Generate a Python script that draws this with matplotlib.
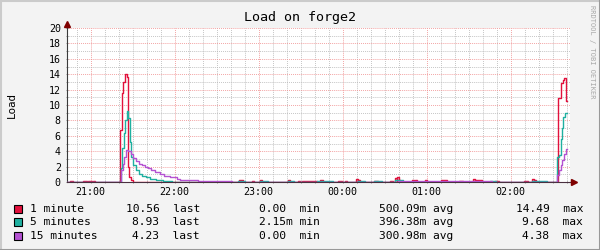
import matplotlib.pyplot as plt
from matplotlib.lines import Line2D
from matplotlib.ticker import MultipleLocator

# time axis: minutes after 21:00
T0, T_END = -17.0, 340.0
X_MIN, X_MAX = -16.9, 342.4
hour_ticks = [0, 60, 120, 180, 240, 300]
hour_labels = ['21:00', '22:00', '23:00', '00:00', '01:00', '02:00']

names = ['1 minute', '5 minutes', '15 minutes']
colors = ['#e2103c', '#1fb0a0', '#b452d2']

# 1 minute load
red_spike_t = [20.9, 22.1, 23.3, 24.5, 25.7, 26.9, 27.6, 28.8, 29.9]
red_spike_v = [6.8, 11.6, 13.0, 14.0, 13.7, 2.0, 0.7, 0.3, 0.0]
red_blip_start = [-14.8, -5.5, -1.9, 1.6, 105.9, 115.2, 120.9, 140.9, 148.1, 150.9,
                  163.8, 176.6, 181.6, 189.5, 190.9, 202.4, 213.8, 217.4, 218.8, 220.2,
                  229.5, 231.6, 238.8, 250.2, 263.1, 273.1, 274.5, 288.8, 309.5, 315.2, 316.6]
red_blip_end = [-12.6, -2.6, 0.9, 3.1, 108.8, 116.6, 122.4, 142.4, 149.5, 161.6,
                165.9, 179.5, 183.1, 190.9, 192.4, 205.2, 215.9, 218.8, 220.2, 220.9,
                230.9, 233.1, 240.2, 254.5, 266.0, 274.5, 279.5, 291.6, 312.4, 316.6, 318.1]
red_blip_v = [0.15, 0.15, 0.15, 0.15, 0.3, 0.15, 0.25, 0.3, 0.15, 0.15,
              0.3, 0.15, 0.15, 0.35, 0.2, 0.15, 0.13, 0.5, 0.7, 0.2,
              0.2, 0.2, 0.2, 0.2, 0.1, 0.45, 0.3, 0.13, 0.13, 0.45, 0.3]
red_tail_t = [333.6, 335.9, 337.6, 338.4, 339.5]
red_tail_v = [10.9, 12.9, 13.3, 13.5, 10.56]

# 5 minute load
teal_spike_t = [21.6, 22.7, 23.8, 24.7, 25.7, 26.9, 27.9, 29.1, 30.6, 32.4, 34.5,
                37.0, 39.5, 42.4, 46.6, 51.6, 58.1]
teal_spike_v = [1.8, 4.4, 6.3, 8.0, 9.2, 8.3, 5.2, 3.3, 2.2, 1.6, 1.1,
                0.8, 0.6, 0.35, 0.2, 0.1, 0.0]
teal_blip_start = [105.2, 120.9, 140.9, 161.6, 190.9, 202.4, 217.4, 285.2, 315.2]
teal_blip_end = [110.2, 126.6, 145.2, 173.1, 195.9, 208.1, 223.1, 289.5, 325.9]
teal_blip_v = [0.17, 0.17, 0.17, 0.17, 0.15, 0.15, 0.3, 0.1, 0.15]
teal_tail_t = [333.1, 334.7, 335.7, 336.6, 337.6, 338.8]
teal_tail_v = [3.3, 3.5, 5.6, 7.0, 8.5, 8.93]

# 15 minute load
purple_spike_t = [21.6, 22.9, 24.0, 25.0, 26.9, 28.8, 30.6, 32.4, 34.5, 36.6, 38.8,
                  40.9, 43.1, 45.9, 49.5, 52.4, 56.6, 61.6, 63.8, 76.6, 100.9]
purple_spike_v = [1.5, 2.4, 3.2, 4.1, 4.0, 3.6, 3.1, 2.7, 2.4, 2.2, 2.0,
                  1.8, 1.5, 1.3, 1.0, 0.8, 0.6, 0.35, 0.25, 0.17, 0.0]
purple_blip_start = [219.5]
purple_blip_end = [286.6]
purple_blip_v = [0.1]
purple_tail_t = [333.1, 334.3, 335.7, 336.9, 338.1, 339.3]
purple_tail_v = [0.9, 1.5, 2.2, 2.9, 3.6, 4.23]

# legend statistics
last_vals = [10.56, 8.93, 4.23]
min_vals = [0.0, 2.15e-3, 0.0]
avg_vals = [500.09e-3, 396.38e-3, 300.98e-3]
max_vals = [14.49, 9.68, 4.38]


def build(spike_t, spike_v, b_start, b_end, b_val, tail_t, tail_v):
    pts = [(T0, 0.0)]
    pts += list(zip(spike_t, spike_v))
    pts += list(zip(b_start, b_val))
    pts += [(e, 0.0) for e in b_end]
    pts += list(zip(tail_t, tail_v))
    pts.sort()
    t = [p[0] for p in pts] + [T_END]
    v = [p[1] for p in pts] + [pts[-1][1]]
    return t, v


def fmt(val):
    if val != 0 and abs(val) < 1:
        return '%.2fm' % (val * 1000)
    return '%.2f ' % val


series = [
    build(red_spike_t, red_spike_v, red_blip_start, red_blip_end, red_blip_v, red_tail_t, red_tail_v),
    build(teal_spike_t, teal_spike_v, teal_blip_start, teal_blip_end, teal_blip_v, teal_tail_t, teal_tail_v),
    build(purple_spike_t, purple_spike_v, purple_blip_start, purple_blip_end, purple_blip_v,
          purple_tail_t, purple_tail_v),
]

mono = 'DejaVu Sans Mono'
W, H = 600, 250
fig = plt.figure(figsize=(6, 2.5), dpi=100, facecolor='#f3f3f3')
ax = fig.add_axes([67 / W, 68 / H, 503 / W, 154 / H])
ax.set_facecolor('white')

for (t, v), c in zip(series, colors):
    ax.plot(t, v, drawstyle='steps-post', color=c, lw=1.0, zorder=3)

ax.set_xlim(X_MIN, X_MAX)
ax.set_ylim(0, 20)
ax.set_xticks(hour_ticks)
ax.set_xticklabels(hour_labels)
ax.xaxis.set_minor_locator(MultipleLocator(10))
ax.yaxis.set_major_locator(MultipleLocator(2))
ax.yaxis.set_minor_locator(MultipleLocator(1))

ax.grid(which='minor', color='#b8b8b8', lw=0.7, linestyle=(0, (0.8, 1.2)), zorder=1)
ax.grid(which='major', color='#f09090', lw=0.7, linestyle=(0, (0.8, 1.2)), zorder=1)
ax.set_axisbelow(True)

ax.tick_params(which='both', direction='inout', length=2, width=0.6, color='#808080')
ax.tick_params(axis='y', which='major', labelsize=7.2, pad=3.5)
ax.tick_params(axis='x', which='major', labelsize=7.2, pad=2.5)
for lab in ax.get_xticklabels() + ax.get_yticklabels():
    lab.set_family(mono)

for s in ['top', 'right']:
    ax.spines[s].set_visible(False)
ax.spines['left'].set_color('#3a3a3a')
ax.spines['bottom'].set_color('#4a3040')
ax.spines['left'].set_linewidth(0.8)
ax.spines['bottom'].set_linewidth(0.8)
ax.spines['bottom'].set_zorder(4)

# axis extensions with arrows
ax.plot([X_MIN, X_MIN], [20, 20.55], color='#3a3a3a', lw=0.8, clip_on=False)
ax.plot([X_MAX, X_MAX + 2.5], [0, 0], color='#4a3040', lw=0.8, clip_on=False)
ax.plot([X_MIN], [20.55], marker='^', ms=4, color='#7f0000', clip_on=False, zorder=5)
ax.plot([X_MAX + 3.2], [0], marker='>', ms=4, color='#7f0000', clip_on=False, zorder=5)

fig.text(300 / W, 1 - 18 / H, 'Load on forge2', ha='center', va='center',
         family=mono, fontsize=9.6)
fig.text(12 / W, 1 - 105 / H, 'Load', ha='center', va='center', rotation=90,
         family=mono, fontsize=7.8)
fig.text(592 / W, 1 - 5 / H, 'RRDTOOL / TOBI OETIKER', ha='center', va='top',
         rotation=270, family=mono, fontsize=5, color='#a8a8a8')

# legend
rows_y = [209, 222, 236]
for i in range(3):
    y = 1 - rows_y[i] / H
    fig.patches.append(plt.Rectangle((14 / W, y - 4 / H), 8 / W, 8 / H,
                                     transform=fig.transFigure, facecolor=colors[i],
                                     edgecolor='black', lw=0.8))
    fig.text(30 / W, y, names[i], ha='left', va='center', family=mono, fontsize=8.1)
    groups = [(fmt(last_vals[i]) + ' last', 200), (fmt(min_vals[i]) + ' min', 320),
              (fmt(avg_vals[i]) + ' avg', 453), (fmt(max_vals[i]) + ' max', 583)]
    for txt, xr in groups:
        fig.text(xr / W, y, txt, ha='right', va='center', family=mono, fontsize=8.1)

# frame of the canvas
fig.add_artist(Line2D([0, 1], [1 - 0.5 / H, 1 - 0.5 / H], color='#cbcbcb', lw=1.5))
fig.add_artist(Line2D([0.5 / W, 0.5 / W], [0, 1], color='#cbcbcb', lw=1.5))
fig.add_artist(Line2D([0, 1], [0.5 / H, 0.5 / H], color='#999999', lw=1.5))
fig.add_artist(Line2D([1 - 0.5 / W, 1 - 0.5 / W], [0, 1], color='#999999', lw=1.5))

fig.savefig('out.png', dpi=100, facecolor=fig.get_facecolor())
